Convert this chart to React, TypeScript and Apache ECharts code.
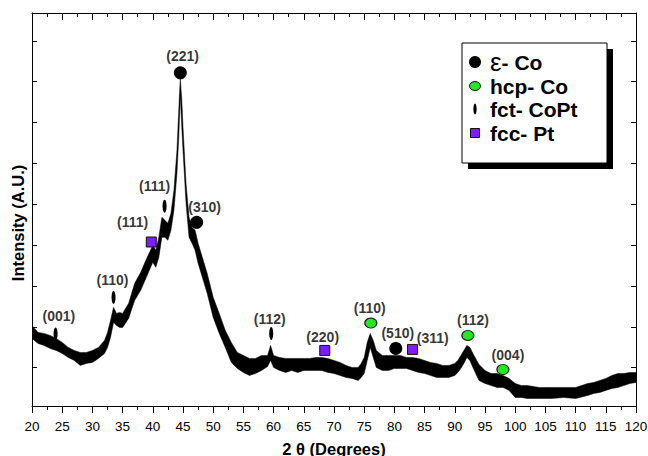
import React, { useEffect, useRef } from "react";
import * as echarts from "echarts";

// 2θ positions (degrees)
const theta = [20,21,22,23,24,25,26,27,28,29,30,31,32,32.5,33,33.5,34,34.5,35,36,37,38,39,40,40.5,41,41.5,42,42.5,43,43.5,44,44.3,44.55,44.8,45,45.5,46,46.5,47,47.5,48,49,50,51,52,53,54,55,56,57,58,59,59.5,60,61,62,63,64,65,66,67,68,69,70,71,72,73,74,74.5,75,75.5,76,76.5,77,78,79,80,81,82,83,84,85,86,87,88,89,90,90.5,91,91.5,92,92.5,93,94,95,96,97,98,99,100,101,102,104,106,108,110,112,113,114,115,116,117,118,119,120];
// lower edge of the noisy trace (a.u.)
const lower = [700,650,630,600,580,550,510,480,430,450,460,500,550,610,710,860,830,810,810,900,1080,1180,1320,1460,1410,1510,1710,1710,1680,1780,1980,2350,2710,3130,2810,2580,2050,1710,1650,1580,1450,1350,1150,910,750,610,460,400,360,330,350,380,420,480,410,380,360,380,360,380,380,380,380,360,350,330,310,300,280,310,350,480,610,510,410,380,380,400,400,400,380,360,350,330,310,310,310,330,360,400,450,510,480,410,280,250,230,210,210,180,110,110,100,100,100,110,100,130,150,160,180,200,210,230,250,260];
// upper edge of the noisy trace (a.u.)
const upper = [830,760,750,730,700,660,610,580,560,560,580,610,680,760,880,1010,950,960,950,1050,1250,1360,1500,1630,1580,1710,1910,1880,1850,1950,2180,2580,2980,3300,3080,2810,2250,1910,1810,1780,1650,1550,1350,1110,950,780,660,560,530,500,500,530,530,630,530,510,500,500,500,500,500,510,510,500,480,460,430,410,410,450,510,660,750,680,580,530,530,530,530,510,510,500,480,460,450,430,430,450,480,530,580,630,610,550,440,380,350,350,330,300,250,230,230,210,210,210,210,250,260,280,300,330,350,350,360,360];

// phase markers [2θ, intensity]
const epsCo = [[44.56, 3353], [47.26, 1860], [80.23, 600]];
const hcpCo = [[76.09, 853], [92.16, 730], [97.96, 390]];
const fctCoPt = [[23.9, 745], [33.5, 1110], [41.95, 2020], [59.6, 750]];
const fccPt = [[39.75, 1663], [68.47, 580], [83.0, 590]];

// peak indices [text, 2θ, intensity]
const peakLabels: [string, number, number][] = [
  ["(221)", 44.94, 3520],
  ["(310)", 48.58, 2010],
  ["(510)", 80.56, 750],
  ["(110)", 75.92, 1000],
  ["(112)", 93.0, 880],
  ["(004)", 98.8, 530],
  ["(001)", 24.44, 920],
  ["(110)", 33.34, 1280],
  ["(111)", 40.3, 2220],
  ["(112)", 59.35, 890],
  ["(111)", 36.66, 1860],
  ["(220)", 68.13, 710],
  ["(311)", 86.36, 700],
];

const legendItems = ["ε- Co", "hcp- Co", "fct- CoPt", "fcc- Pt"];
const yTitle = "Intensity (A.U.)";

const FONT = 'Arial, "Liberation Sans", sans-serif';
const GREEN = "#22e822";
const PURPLE = "#7f1cff";

export default function App() {
  const ref = useRef<HTMLDivElement>(null);
  useEffect(() => {
    if (!ref.current) return;
    const chart = echarts.init(ref.current, undefined, { renderer: "svg" });
    const yMin = 25;
    const yMax = 3950;
    const yInt = 408;
    const xBase = {
      type: "value" as const,
      min: 20,
      max: 120,
      interval: 5,
      splitLine: { show: false },
      axisLine: { show: true, lineStyle: { color: "#000", width: 1 } },
    };
    const yBase = {
      type: "value" as const,
      min: yMin,
      max: yMax,
      splitNumber: 10,
      minInterval: yInt,
      maxInterval: yInt,
      splitLine: { show: false },
      axisLabel: { show: false },
      axisLine: { show: true, onZero: false, lineStyle: { color: "#000", width: 1 } },
      axisTick: { show: true, inside: true, length: 5, lineStyle: { color: "#000" } },
    };
    const lx = 475;
    const ys = [62, 86, 109, 133];
    chart.setOption({
      animation: false,
      backgroundColor: "#fff",
      grid: { left: 32, right: 12, top: 13, bottom: 50, outerBoundsMode: "none", containLabel: false },
      xAxis: [
        {
          ...xBase,
          position: "bottom",
          axisTick: { show: true, inside: false, length: 7, lineStyle: { color: "#000" } },
          minorTick: { show: true, splitNumber: 2, length: 4, lineStyle: { color: "#000" } },
          axisLabel: { color: "#000", fontSize: 13.5, fontFamily: FONT, margin: 13 },
          name: "2 θ (Degrees)",
          nameLocation: "middle",
          nameGap: 34,
          nameTextStyle: { color: "#000", fontSize: 16.5, fontWeight: "bold", fontFamily: FONT },
        },
        {
          ...xBase,
          position: "top",
          axisTick: { show: true, inside: true, length: 7, lineStyle: { color: "#000" } },
          minorTick: { show: true, splitNumber: 2, length: 4, lineStyle: { color: "#000" } },
          axisLabel: { show: false },
        },
      ],
      yAxis: [
        { ...yBase, position: "left" },
        { ...yBase, position: "right" },
      ],
      series: [
        {
          type: "custom",
          data: [[theta[0], upper[0]]],
          clip: true,
          renderItem: (_params: any, api: any) => {
            const pts: number[][] = [];
            for (let i = 0; i < theta.length; i++) pts.push(api.coord([theta[i], upper[i]]));
            for (let i = theta.length - 1; i >= 0; i--) pts.push(api.coord([theta[i], lower[i]]));
            return {
              type: "polygon",
              shape: { points: pts },
              style: { fill: "#000", stroke: "#000", lineWidth: 0.5 },
            };
          },
          z: 2,
        },
        {
          type: "scatter",
          data: epsCo,
          symbol: "circle",
          symbolSize: 13,
          itemStyle: { color: "#000", opacity: 1 },
          z: 5,
        },
        {
          type: "scatter",
          data: hcpCo,
          symbol: "circle",
          symbolSize: [12, 10],
          itemStyle: { color: GREEN, borderColor: "#111", borderWidth: 1, opacity: 1 },
          z: 5,
        },
        {
          type: "scatter",
          data: fctCoPt,
          symbol: "circle",
          symbolSize: [4, 13],
          itemStyle: { color: "#000", opacity: 1 },
          z: 5,
        },
        {
          type: "scatter",
          data: fccPt,
          symbol: "rect",
          symbolSize: 10,
          itemStyle: { color: PURPLE, borderColor: "#111", borderWidth: 1, opacity: 1 },
          z: 5,
        },
        {
          type: "scatter",
          data: peakLabels.map((p) => ({ value: [p[1], p[2]], name: p[0] })),
          symbolSize: 0,
          itemStyle: { color: "transparent" },
          label: {
            show: true,
            position: "inside",
            formatter: (p: any) => p.name,
            color: "#000",
            fontSize: 14,
            fontWeight: "bold",
            fontFamily: FONT,
          },
          z: 6,
        },
      ],
      graphic: [
        {
          type: "text",
          x: 18,
          y: 223,
          rotation: Math.PI / 2,
          z: 12,
          style: { text: yTitle, fontSize: 16.5, fontWeight: "bold", fontFamily: FONT, fill: "#000", align: "center", verticalAlign: "middle" },
        },
        { type: "rect", shape: { x: 468, y: 49, width: 145, height: 120 }, style: { fill: "#000" }, z: 10 },
        { type: "rect", shape: { x: 462, y: 43, width: 145, height: 120 }, style: { fill: "#fff", stroke: "#000", lineWidth: 1 }, z: 11 },
        { type: "circle", shape: { cx: lx, cy: ys[0], r: 6 }, style: { fill: "#000" }, z: 12 },
        { type: "ellipse", shape: { cx: lx, cy: ys[1], rx: 5.5, ry: 4.5 }, style: { fill: GREEN, stroke: "#111", lineWidth: 1 }, z: 12 },
        { type: "ellipse", shape: { cx: lx, cy: ys[2], rx: 1.6, ry: 5.5 }, style: { fill: "#000" }, z: 12 },
        { type: "rect", shape: { x: lx - 4.5, y: ys[3] - 4.5, width: 9, height: 9 }, style: { fill: PURPLE, stroke: "#111", lineWidth: 1 }, z: 12 },
        {
          type: "text",
          x: 490,
          y: ys[0],
          z: 12,
          style: {
            text: "{e|ε}{t|- Co}",
            verticalAlign: "middle",
            rich: {
              e: { fontSize: 26, fontFamily: FONT, fill: "#000", verticalAlign: "middle" },
              t: { fontSize: 21, fontWeight: "bold", fontFamily: FONT, fill: "#000", verticalAlign: "middle" },
            },
          },
        },
        ...legendItems.slice(1).map((s, i) => ({
          type: "text",
          x: 490,
          y: ys[i + 1],
          z: 12,
          style: { text: s, fontSize: 21, fontWeight: "bold", fontFamily: FONT, fill: "#000", verticalAlign: "middle" },
        })),
      ],
    });
    return () => chart.dispose();
  }, []);
  return <div ref={ref} style={{ width: 648, height: 456, position: "absolute", left: 0, top: 0 }} />;
}
